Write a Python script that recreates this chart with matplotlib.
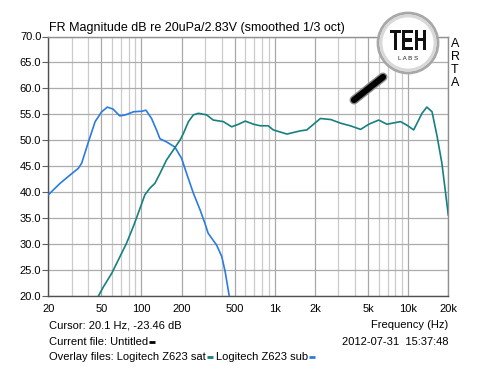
import numpy as np
import matplotlib
matplotlib.use('Agg')
import matplotlib.pyplot as plt
import matplotlib.patheffects as pe
from matplotlib.patches import Circle, PathPatch
from matplotlib.textpath import TextPath
from matplotlib.font_manager import FontProperties
from matplotlib.transforms import Affine2D

plt.rcParams['font.family'] = ['Liberation Sans', 'DejaVu Sans']

# Logitech Z623 subwoofer
sub_freq = [20, 24.5, 29.1, 33.6, 35.6, 40, 44.9, 50.3, 55.5, 61.3, 68.7, 75.9,
            87.2, 100.6, 108, 119, 130, 137.5, 154, 178, 200, 218, 245, 275,
            299, 316, 366, 400, 424, 455, 480]
sub_db = [39.5, 41.7, 43.3, 44.6, 45.6, 49.7, 53.6, 55.5, 56.4, 56.0, 54.7, 54.9,
          55.5, 55.6, 55.8, 54.2, 51.9, 50.3, 49.7, 48.7, 46.5, 43.6, 39.8, 36.6,
          34.0, 32.1, 29.8, 27.6, 24.7, 20.0, 16.0]

# Logitech Z623 satellite
sat_freq = [45, 47.5, 51.9, 59.9, 69, 77.3, 86.9, 97.5, 106, 115.8, 126, 137.5,
            154, 173, 195, 206, 225, 245, 267, 308, 345, 411, 475, 535, 600,
            692, 776, 890, 974, 1234, 1540, 1737, 2196, 2630, 3110, 3680, 4400,
            5070, 6010, 6930, 8760, 9800, 11000, 12700, 13800, 15100, 16500,
            17900, 20000]
sat_db = [18.8, 20.0, 21.8, 24.4, 27.6, 30.2, 33.4, 36.9, 39.5, 40.8, 41.7, 43.6,
          46.2, 48.1, 50.1, 51.3, 53.6, 54.9, 55.2, 54.9, 53.9, 53.6, 52.6, 53.1,
          53.7, 53.1, 52.8, 52.8, 52.0, 51.2, 51.8, 52.0, 54.2, 54.0, 53.3, 52.8,
          52.1, 53.1, 53.9, 53.1, 53.6, 52.9, 52.0, 55.2, 56.4, 55.5, 50.7,
          45.6, 35.6]

xtick_vals = [20, 50, 100, 200, 500, 1000, 2000, 5000, 10000, 20000]
xtick_labels = ['20', '50', '100', '200', '500', '1k', '2k', '5k', '10k', '20k']
ytick_vals = np.arange(20, 71, 5)

blue = '#2b7be0'
teal = '#17807f'

fig = plt.figure(figsize=(4.8, 3.81), dpi=100)
ax = fig.add_axes([48.3 / 480, 1 - 296 / 381, 400 / 480, 259.5 / 381])
ax.set_xscale('log')
ax.set_xlim(20, 20000)
ax.set_ylim(20, 70)

# grid: darker lines at labelled frequencies, lighter elsewhere
for dec in [10, 100, 1000, 10000]:
    for m in range(1, 10):
        f = dec * m
        if f < 20 or f > 20000:
            continue
        c = '#a8a8a8' if f in xtick_vals else '#cbcbcb'
        ax.axvline(f, color=c, lw=0.9, zorder=1)
for v in ytick_vals:
    ax.axhline(v, color='#acacac', lw=0.9, zorder=1)

ax.plot(sub_freq, sub_db, color=blue, lw=1.2, zorder=3)
ax.plot(sat_freq, sat_db, color=teal, lw=1.2, zorder=3)

ax.set_xticks(xtick_vals)
ax.set_xticklabels(xtick_labels)
ax.xaxis.set_minor_locator(matplotlib.ticker.NullLocator())
ax.set_yticks(ytick_vals)
ax.set_yticklabels(['%.1f' % v for v in ytick_vals])
ax.tick_params(axis='x', length=0, pad=6, labelsize=8)
ax.tick_params(axis='y', length=4, width=0.8, color='#606060', pad=1, labelsize=8)
for s in ['top', 'right']:
    ax.spines[s].set_color('#909090')
for s in ['left', 'bottom']:
    ax.spines[s].set_color('#505050')
for s in ax.spines.values():
    s.set_linewidth(1)

# overlay in pixel coordinates
ov = fig.add_axes([0, 0, 1, 1], zorder=5)
ov.set_xlim(0, 480)
ov.set_ylim(381, 0)
ov.axis('off')
ov.patch.set_alpha(0)

ov.text(49, 28, 'FR Magnitude dB re 20uPa/2.83V (smoothed 1/3 oct)',
        fontsize=9, va='center', ha='left')
for i, ch in enumerate('ARTA'):
    ov.text(455, 44 + i * 13, ch, fontsize=9, ha='center', va='center')

ov.text(49, 325, 'Cursor: 20.1 Hz, -23.46 dB', fontsize=8, va='center')
ov.text(448, 325, 'Frequency (Hz)', fontsize=8, va='center', ha='right')
ov.text(448, 342, '2012-07-31  15:37:48', fontsize=8, va='center', ha='right')

fig.canvas.draw()
rend = fig.canvas.get_renderer()

def label_with_dash(x, y, s, color):
    t = ov.text(x, y, s, fontsize=8, va='center')
    bb = t.get_window_extent(renderer=rend)
    x_end = bb.x1 * 480 / fig.bbox.width
    ov.plot([x_end + 1, x_end + 7], [y, y], color=color, lw=2, solid_capstyle='butt')
    return x_end + 7

label_with_dash(49, 342, 'Current file: Untitled', 'black')
xe = label_with_dash(49, 357, 'Overlay files: Logitech Z623 sat', teal)
label_with_dash(xe + 3, 357, 'Logitech Z623 sub', blue)

# TEH LABS magnifier logo
ov.plot([383, 354], [77, 100], color='black', lw=4.5, solid_capstyle='round',
        path_effects=[pe.Stroke(linewidth=6.5, foreground='#8a8a8a'), pe.Normal()])
ov.add_patch(Circle((408, 43), 30, facecolor='#ececec', edgecolor='#a8a8a8', lw=2))
ov.add_patch(Circle((408, 43), 27, facecolor='white', edgecolor='#d8d8d8', lw=2))
tp = TextPath((0, 0), 'TEH', size=22,
              prop=FontProperties(family='Liberation Sans', weight='bold'))
ext = tp.get_extents()
tr = (Affine2D().translate(-(ext.x0 + ext.x1) / 2, -(ext.y0 + ext.y1) / 2)
      .scale(0.85, -1.35).translate(408, 40))
ov.add_patch(PathPatch(tr.transform_path(tp), facecolor='#111111', edgecolor='none'))
ov.text(408, 59, 'L A B S', fontsize=4.5, ha='center', va='center', color='#222222')

fig.savefig('out.png', dpi=100, facecolor='white')
